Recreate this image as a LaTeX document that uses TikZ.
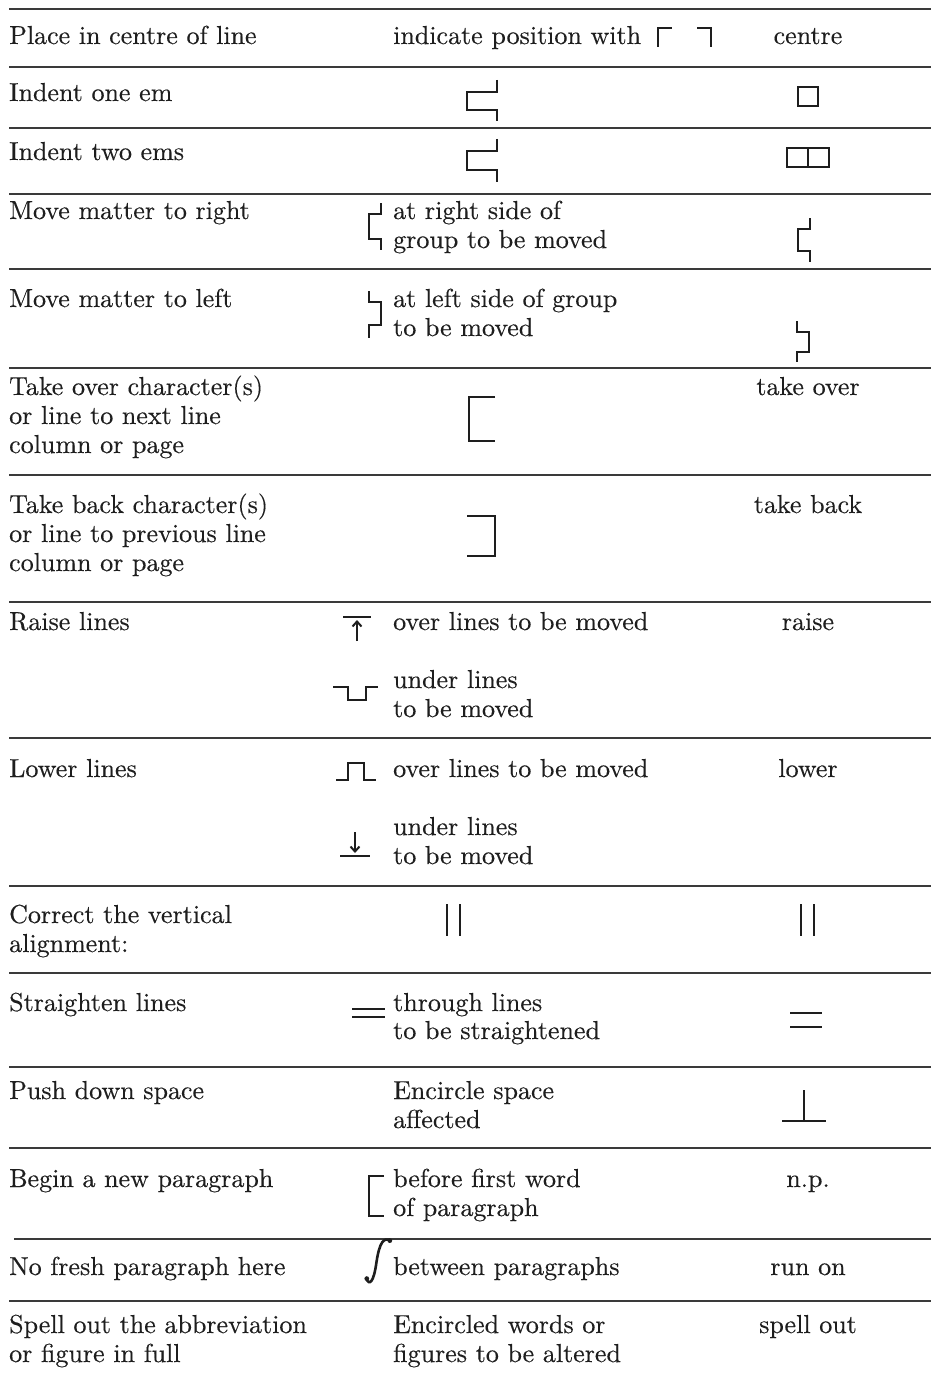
\documentclass[tikz,border=0pt]{standalone}
\usepackage{fontspec}
\setmainfont{lmroman10-regular.otf}[FakeBold=0.3]
\usetikzlibrary{arrows.meta}
\definecolor{ink}{HTML}{1E1E1E}
\definecolor{rulec}{HTML}{3A3A3A}
\tikzset{
  txt/.style={inner sep=0pt, anchor=base west, text=ink, font=\fontsize{26}{29}\selectfont},
  ctxt/.style={txt, anchor=base},
  tablerule/.style={draw=rulec, line width=1.8pt},
  sym/.style={draw=ink, line width=2.6pt, line cap=butt, line join=miter},
}
\newcommand\mytxt[4]{\node[txt] (#1) at (#2,#3) {#4};}
\newcommand\mytxtc[4]{\node[ctxt] (#1) at (#2,#3) {#4};}
\begin{document}
\begin{tikzpicture}[x=1pt,y=-1pt]
\useasboundingbox (0,0) rectangle (931,1375);
\fill[white] (0,0) rectangle (931,1375);
% rules
\foreach \yy in {9,67,128,194,269,368,475,602,738,886,973,1067,1148,1301}
  \draw[tablerule] (9,\yy) -- (931,\yy);
\draw[tablerule] (14,1239) -- (931,1239);
% left column
\mytxt{l1}{9}{44}{Place in centre of line}
\mytxt{l2}{9}{101}{Indent one em}
\mytxt{l3}{9}{160}{Indent two ems}
\mytxt{l4}{9}{219}{Move matter to right}
\mytxt{l5}{9}{307}{Move matter to left}
\mytxt{l6a}{9}{395}{Take over character(s)}
\mytxt{l6b}{9}{424}{or line to next line}
\mytxt{l6c}{9}{453}{column or page}
\mytxt{l7a}{9}{513}{Take back character(s)}
\mytxt{l7b}{9}{542}{or line to previous line}
\mytxt{l7c}{9}{571}{column or page}
\mytxt{l8}{9}{630}{Raise lines}
\mytxt{l9}{9}{777}{Lower lines}
\mytxt{l10a}{9}{923}{Correct the vertical}
\mytxt{l10b}{9}{952}{alignment:}
\mytxt{l11}{9}{1011}{Straighten lines}
\mytxt{l12}{9}{1099}{Push down space}
\mytxt{l13}{9}{1187}{Begin a new paragraph}
\mytxt{l14}{9}{1275}{No fresh paragraph here}
\mytxt{l15a}{9}{1333}{Spell out the abbreviation}
\mytxt{l15b}{9}{1362}{or figure in full}
% middle column
\mytxt{m1}{393}{44}{indicate position with}
\mytxt{m4a}{393}{219}{at right side of}
\mytxt{m4b}{393}{248}{group to be moved}
\mytxt{m5a}{393}{307}{at left side of group}
\mytxt{m5b}{393}{336}{to be moved}
\mytxt{m8a}{393}{630}{over lines to be moved}
\mytxt{m8b}{393}{688}{under lines}
\mytxt{m8c}{393}{717}{to be moved}
\mytxt{m9a}{393}{777}{over lines to be moved}
\mytxt{m9b}{393}{835}{under lines}
\mytxt{m9c}{393}{864}{to be moved}
\mytxt{m11a}{393}{1011}{through lines}
\mytxt{m11b}{393}{1039}{to be straightened}
\mytxt{m12a}{393}{1099}{Encircle space}
\mytxt{m12b}{393}{1128}{affected}
\mytxt{m13a}{393}{1187}{before first word}
\mytxt{m13b}{393}{1216}{of paragraph}
\mytxt{m14}{393}{1275}{between paragraphs}
\mytxt{m15a}{393}{1333}{Encircled words or}
\mytxt{m15b}{393}{1362}{figures to be altered}
% right column
\mytxtc{r1}{808}{44}{centre}
\mytxtc{r6}{808}{395}{take over}
\mytxtc{r7}{808}{513}{take back}
\mytxtc{r8}{808}{630}{raise}
\mytxtc{r9}{808}{777}{lower}
\mytxtc{r13}{808}{1187}{n.p.}
\mytxtc{r14}{808}{1275}{run on}
\mytxtc{r15}{808}{1333}{spell out}
% symbols row 1
\draw[sym] (658,47) -- (658,28) -- (672,28);
\draw[sym] (697,28) -- (711,28) -- (711,47);
% row 2
\draw[sym] (497,80) -- (497,92) -- (467,92) -- (467,110) -- (497,110) -- (497,121);
\draw[sym] (798,87) rectangle (818,106);
% row 3
\draw[sym] (497,139) -- (497,151) -- (467,151) -- (467,170) -- (497,170) -- (497,182);
\draw[sym] (787,148) rectangle (829,167);
\draw[sym] (808,148) -- (808,167);
% row 4
\draw[sym] (381,203) -- (381,214) -- (369,214) -- (369,239) -- (381,239) -- (381,250);
\draw[sym] (810,218) -- (810,229) -- (798,229) -- (798,251) -- (810,251) -- (810,262);
% row 5
\draw[sym] (369,291) -- (369,302) -- (381,302) -- (381,325) -- (369,325) -- (369,338);
\draw[sym] (797,321) -- (797,332) -- (809,332) -- (809,352) -- (797,352) -- (797,362);
% row 6, 7
\draw[sym] (495,397) -- (469,397) -- (469,441) -- (495,441);
\draw[sym] (467,516) -- (495,516) -- (495,556) -- (467,556);
% raise
\draw[sym] (343,617) -- (371,617);
\draw[sym, -{Straight Barb[length=5pt,width=9pt,line width=2pt]}] (357,641) -- (357,620);
\draw[sym] (333,687) -- (348,687) -- (348,700) -- (366,700) -- (366,687) -- (378,687);
% lower
\draw[sym] (336,780) -- (348,780) -- (348,763) -- (364,763) -- (364,780) -- (376,780);
\draw[sym, -{Straight Barb[length=5pt,width=9pt,line width=2pt]}] (355,832) -- (355,853);
\draw[sym] (340,856) -- (370,856);
% vertical alignment
\draw[sym] (447,904) -- (447,936);
\draw[sym] (460,904) -- (460,936);
\draw[sym] (801,904) -- (801,936);
\draw[sym] (814,904) -- (814,936);
% straighten
\draw[sym] (352,1009) -- (385,1009);
\draw[sym] (352,1017) -- (385,1017);
\draw[sym] (790,1013) -- (822,1013);
\draw[sym] (790,1027) -- (822,1027);
% push down
\draw[sym] (804,1090) -- (804,1121);
\draw[sym] (782,1121) -- (826,1121);
% new paragraph
\draw[sym] (384,1176) -- (369,1176) -- (369,1216) -- (384,1216);
% run on integral
\draw[draw=ink, line width=2.6pt, line cap=round]
  (366.5,1279) .. controls (369,1285) and (373.5,1284) .. (376.5,1262)
  .. controls (379.5,1242) and (384,1237) .. (390,1240.5);
\fill[ink] (366.8,1278.6) circle (2.4pt);
\fill[ink] (389.8,1240.6) circle (2.4pt);
\end{tikzpicture}
\end{document}
